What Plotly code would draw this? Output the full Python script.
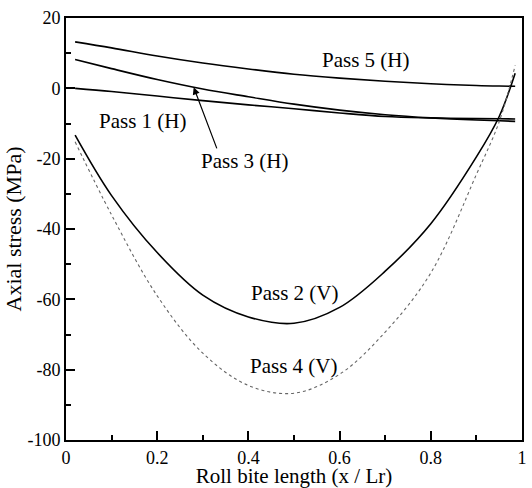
import plotly.graph_objects as go

x_pos = [0.02, 0.1, 0.2, 0.3, 0.4, 0.5, 0.6, 0.7, 0.8, 0.9, 0.95, 0.985]

pass1 = [0.0, -0.9, -2.2, -3.5, -4.7, -5.8, -7.0, -8.0, -8.4, -8.6, -8.65, -8.7]
pass3 = [8.2, 5.6, 2.5, -0.2, -2.4, -4.5, -6.2, -7.5, -8.4, -9.0, -9.2, -9.4]
pass5 = [13.2, 11.5, 9.2, 7.2, 5.5, 4.0, 2.9, 2.0, 1.3, 0.8, 0.65, 0.6]
pass2 = [-13.3, -30.5, -46.7, -58.8, -65.0, -66.8, -62.3, -52.0, -38.5, -19.5, -8.0, 4.3]
pass4 = [-15.2, -36.0, -59.0, -75.3, -84.5, -86.7, -81.3, -69.3, -52.5, -24.5, -9.5, 6.5]

x_ticks = [0, 0.2, 0.4, 0.6, 0.8, 1.0]
x_tick_text = ["0", "0.2", "0.4", "0.6", "0.8", "1"]
y_ticks = [-100, -80, -60, -40, -20, 0, 20]
y_tick_text = ["-100", "-80", "-60", "-40", "-20", "0", "20"]

labels = ["Pass 1 (H)", "Pass 2 (V)", "Pass 3 (H)", "Pass 4 (V)", "Pass 5 (H)"]
label_x = [0.168, 0.502, 0.393, 0.50, 0.657]
label_y = [-9.3, -58.3, -20.8, -79.0, 8.2]

arrow_head = (0.28, 0.3)
arrow_tail = (0.332, -17.5)

FONT = "Liberation Serif, Times New Roman, serif"

fig = go.Figure()
solid = dict(color="black", width=1.6, shape="spline", smoothing=1.0)
fig.add_trace(go.Scatter(x=x_pos, y=pass1, mode="lines", line=solid, name=labels[0]))
fig.add_trace(go.Scatter(x=x_pos, y=pass3, mode="lines", line=solid, name=labels[2]))
fig.add_trace(go.Scatter(x=x_pos, y=pass5, mode="lines", line=solid, name=labels[4]))
fig.add_trace(go.Scatter(x=x_pos, y=pass2, mode="lines", line=solid, name=labels[1]))
fig.add_trace(go.Scatter(x=x_pos, y=pass4, mode="lines",
                         line=dict(color="#666666", width=1.1, dash="dot", shape="spline"),
                         name=labels[3]))

for t, lx, ly in zip(labels, label_x, label_y):
    fig.add_annotation(x=lx, y=ly, text=t, showarrow=False,
                       font=dict(family=FONT, size=21, color="black"))

fig.add_annotation(x=arrow_head[0], y=arrow_head[1], ax=arrow_tail[0], ay=arrow_tail[1],
                   axref="x", ayref="y", xref="x", yref="y", text="",
                   showarrow=True, arrowhead=2, arrowsize=1.2, arrowwidth=1.2,
                   arrowcolor="black")

axis_common = dict(showline=True, linecolor="black", linewidth=2, mirror=True,
                   ticks="inside", ticklen=9, tickwidth=2, tickcolor="black",
                   showgrid=False, zeroline=False,
                   tickfont=dict(family=FONT, size=18, color="black"))

fig.update_xaxes(range=[0, 1], tickvals=x_ticks, ticktext=x_tick_text, automargin=False,
                 minor=dict(ticks="inside", ticklen=5, tickwidth=1.5, tickcolor="black", dtick=0.1, tick0=0),
                 title=dict(text="Roll bite length (x / Lr)",
                            font=dict(family=FONT, size=21, color="black")),
                 **axis_common)
fig.update_yaxes(range=[-100, 20], tickvals=y_ticks, ticktext=y_tick_text, automargin=True,
                 minor=dict(ticks="inside", ticklen=5, tickwidth=1.5, tickcolor="black", dtick=10, tick0=0),
                 title=dict(text="Axial stress (MPa)", standoff=0,
                            font=dict(family=FONT, size=22, color="black")),
                 **axis_common)

fig.update_layout(width=532, height=488, showlegend=False,
                  margin=dict(l=66, r=8, t=15, b=48),
                  plot_bgcolor="white", paper_bgcolor="white")

fig.write_html("out.html", config={"displayModeBar": False},
               post_script="document.body.style.margin='0';document.body.style.overflow='hidden';")
